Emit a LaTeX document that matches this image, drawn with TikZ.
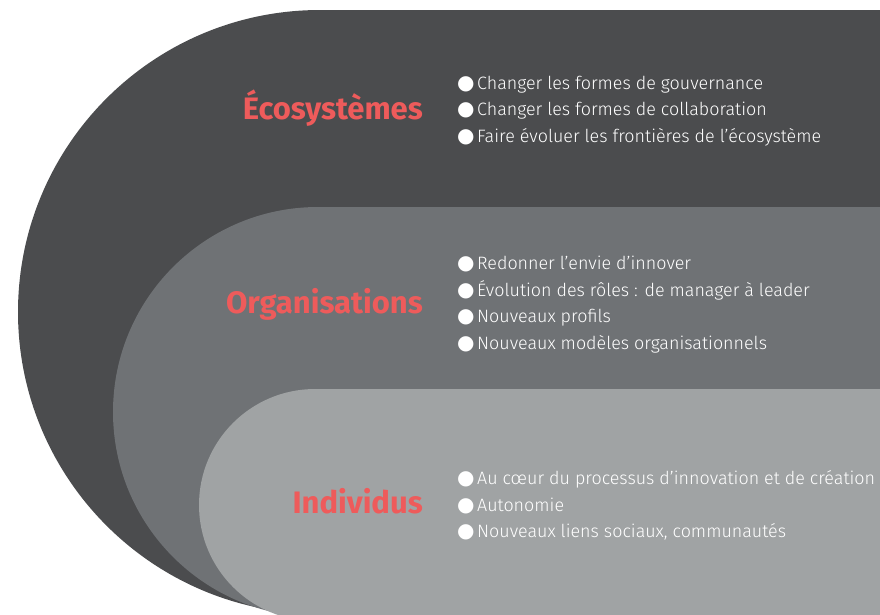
\documentclass[tikz,border=0pt]{standalone}
\usepackage{fontspec}
\setmainfont{Fira Sans}
\newfontfamily\lightfont{Fira Sans Light}
\newfontfamily\bulfont{DejaVu Sans}
\definecolor{darkc}{HTML}{4B4C4E}
\definecolor{midc}{HTML}{6F7275}
\definecolor{lightc}{HTML}{A0A3A4}
\definecolor{redc}{HTML}{EE5B5B}
\newcommand\bul{{\bulfont\fontsize{20}{20}\selectfont ●}\hspace{2.5pt}}
\begin{document}
\begin{tikzpicture}[x=1pt,y=1pt,
  title/.style={font=\fontsize{31}{36}\selectfont\bfseries, text=redc, anchor=base east, inner sep=0},
  item/.style={font=\lightfont\fontsize{17.9}{20}\selectfont, text=white, anchor=base west, inner sep=0}]
\useasboundingbox (0,0) rectangle (880,-614);
\begin{scope}
\clip (0,0) rectangle (880,-614);
\fill[darkc] (890,-10) -- (320,-10) arc[start angle=90,end angle=270,radius=302] -- (890,-614) -- cycle;
\fill[midc] (890,-207) -- (318,-207) arc[start angle=90,end angle=270,radius=205] -- (890,-617) -- cycle;
\fill[lightc] (890,-389) -- (315,-389) arc[start angle=90,end angle=270,radius=116] -- (890,-621) -- cycle;
\end{scope}
\node[title] (eco) at (423,-119) {Écosystèmes};
\node[item] (e1) at (457,-89) {\bul Changer les formes de gouvernance};
\node[item] (e2) at (457,-115.5) {\bul Changer les formes de collaboration};
\node[item] (e3) at (457,-142) {\bul Faire évoluer les frontières de l’écosystème};
\node[title] (org) at (423,-313) {Organisations};
\node[item] (o1) at (457,-269) {\bul Redonner l’envie d’innover};
\node[item] (o2) at (457,-296) {\bul Évolution des rôles : de manager à leader};
\node[item] (o3) at (457,-322) {\bul Nouveaux profils};
\node[item] (o4) at (457,-349) {\bul Nouveaux modèles organisationnels};
\node[title] (ind) at (423,-513) {Individus};
\node[item] (i1) at (457,-484) {\bul Au cœur du processus d’innovation et de création};
\node[item] (i2) at (457,-511) {\bul Autonomie};
\node[item] (i3) at (457,-537) {\bul Nouveaux liens sociaux, communautés};
\end{tikzpicture}
\end{document}
